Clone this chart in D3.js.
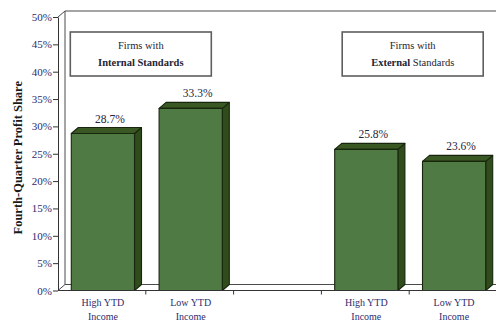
<!DOCTYPE html>
<html>
<head>
<meta charset="utf-8">
<script src="https://cdn.jsdelivr.net/npm/d3@7/dist/d3.min.js"></script>
<style>
  html, body { margin: 0; padding: 0; background: #fff; }
  svg { display: block; }
  text { font-family: "Liberation Serif", "DejaVu Serif", serif; }
</style>
</head>
<body>
<svg id="chart" width="496" height="324"></svg>
<script>
// Category slots along the floor (the middle slot is an empty spacer)
const slots = ["int-high", "int-low", "gap", "ext-high", "ext-low"];
const categoryLines = [["High YTD", "Income"], ["Low YTD", "Income"], [], ["High YTD", "Income"], ["Low YTD", "Income"]];
// Fourth-quarter profit share, in percent
const profitShare = [28.7, 33.3, null, 25.8, 23.6];
// Y axis ticks, in percent
const yTicks = [0, 5, 10, 15, 20, 25, 30, 35, 40, 45, 50];
// Panel captions: slot range, first line, second line segments [text, bold]
const panelSlots = [["int-high", "int-low"], ["ext-high", "ext-low"]];
const panelLine1 = ["Firms with", "Firms with"];
const panelLine2 = [[["Internal Standards", true]], [["External", true], [" Standards", false]]];

const svg = d3.select("#chart");
const depthX = 7, depthY = 6;
const x0 = 58, x1 = 497, yBase = 290.5, yTop = 17;

const x = d3.scaleBand().domain(slots).range([x0, x1]).padding(0);
const y = d3.scaleLinear().domain([0, 50]).range([yBase, yTop]);
const bw = x.bandwidth();
const barW = bw * 0.72;

const lineCol = "#333";
const tickCol = "#2c2c6e";

// back wall and floor outline
const walls = svg.append("g").attr("fill", "none").attr("stroke", "#4a4a4a").attr("stroke-width", 1);
walls.append("path").attr("d",
  `M${x0},${y(50)} L${x0 + depthX},${y(50) - depthY} L${x1},${y(50) - depthY}` +
  `M${x0 + depthX},${y(50) - depthY} L${x0 + depthX},${y(0) - depthY} L${x1},${y(0) - depthY}` +
  `M${x0},${y(0)} L${x0 + depthX},${y(0) - depthY}`);

// bars drawn as front, side and top faces
const bars = svg.append("g");
slots.forEach((s, i) => {
  const v = profitShare[i];
  if (v == null) return;
  const cx = x(s) + bw / 2 + 1;
  const l = cx - barW / 2, r = cx + barW / 2;
  const t = y(v), b = y(0);
  const g = bars.append("g").attr("stroke", "#18260e").attr("stroke-width", 1.1).attr("stroke-linejoin", "round");
  // side
  g.append("path").attr("fill", "#304c1c")
    .attr("d", `M${r},${b} L${r + depthX},${b - depthY} L${r + depthX},${t - depthY} L${r},${t} Z`);
  // top
  g.append("path").attr("fill", "#3a5823")
    .attr("d", `M${l},${t} L${l + depthX},${t - depthY} L${r + depthX},${t - depthY} L${r},${t} Z`);
  // front
  g.append("rect").attr("fill", "#4f7a44").attr("x", l).attr("y", t).attr("width", r - l).attr("height", b - t);
  // value label
  svg.append("text").attr("x", cx + depthX).attr("y", t - depthY - 5)
    .attr("text-anchor", "middle").attr("font-size", 11.5).attr("fill", "#262640")
    .text(v.toFixed(1) + "%");
});

// y axis
const yAxis = d3.axisLeft(y).tickValues(yTicks).tickSize(5).tickSizeOuter(0).tickFormat(d => d + "%");
const ya = svg.append("g").attr("transform", `translate(${x0},0)`).call(yAxis);
ya.select(".domain").attr("stroke", lineCol);
ya.selectAll(".tick line").attr("stroke", lineCol);
ya.selectAll(".tick text").attr("font-size", 11).attr("fill", tickCol).attr("x", -6);

// x axis with ticks at slot boundaries
const xa = svg.append("g").attr("stroke", lineCol).attr("stroke-width", 1);
xa.append("line").attr("x1", x0).attr("x2", x1).attr("y1", y(0)).attr("y2", y(0));
slots.slice(1).forEach(s => {
  xa.append("line").attr("x1", x(s)).attr("x2", x(s)).attr("y1", y(0)).attr("y2", y(0) + 4);
});

// category labels
slots.forEach((s, i) => {
  const t = svg.append("text").attr("text-anchor", "middle").attr("font-size", 10).attr("fill", tickCol);
  categoryLines[i].forEach((ln, j) => {
    t.append("tspan").attr("x", x(s) + bw / 2 + 1).attr("y", 306 + j * 14).text(ln);
  });
});

// y axis title
svg.append("text")
  .attr("transform", `translate(22,${(y(0) + y(50)) / 2 + 4}) rotate(-90)`)
  .attr("text-anchor", "middle").attr("font-size", 12.5).attr("font-weight", "bold").attr("fill", "#1a1a1a")
  .text("Fourth-Quarter Profit Share");

// panel caption boxes
const panelShift = [-5, 3.5];
panelSlots.forEach((p, k) => {
  const cx = (x(p[0]) + x(p[1]) + bw) / 2 + panelShift[k];
  const w = 141, top = 32, h = 44;
  svg.append("rect").attr("x", cx - w / 2).attr("y", top).attr("width", w).attr("height", h)
    .attr("fill", "#fff").attr("stroke", "#5e5e5e").attr("stroke-width", 1.6);
  svg.append("text").attr("x", cx).attr("y", top + 17).attr("text-anchor", "middle")
    .attr("font-size", 10.5).attr("fill", "#242434").text(panelLine1[k]);
  const t2 = svg.append("text").attr("x", cx).attr("y", top + 34).attr("text-anchor", "middle")
    .attr("font-size", 10.5).attr("fill", "#242434");
  panelLine2[k].forEach(([txt, bold]) => {
    t2.append("tspan").attr("font-weight", bold ? "bold" : "normal").text(txt);
  });
});
</script>
</body>
</html>
